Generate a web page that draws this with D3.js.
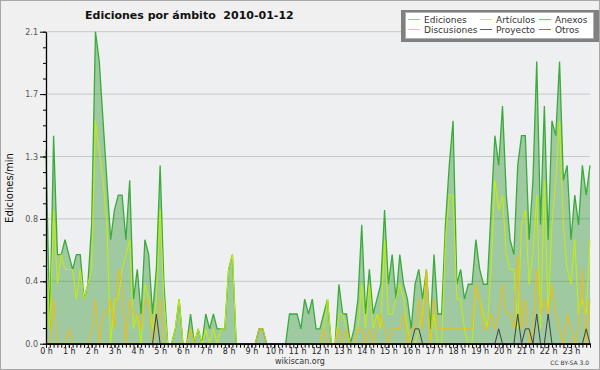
<!DOCTYPE html>
<html>
<head>
<meta charset="utf-8">
<script src="https://cdn.jsdelivr.net/npm/d3@7"></script>
<style>
  body { margin: 0; background: #f0f0f0; }
  svg { display: block; }
  text { font-family: "DejaVu Sans", sans-serif; }
</style>
</head>
<body>
<svg id="chart" width="600" height="370"></svg>
<script>
// one value every 10 minutes, 144 slots for the day
var hourLabels = ["0 h","1 h","2 h","3 h","4 h","5 h","6 h","7 h","8 h","9 h","10 h","11 h",
                  "12 h","13 h","14 h","15 h","16 h","17 h","18 h","19 h","20 h","21 h","22 h","23 h"];
var yTicks = [0, 0.42, 0.84, 1.26, 1.68, 2.1];

var ediciones = [
  1.3,0.1,1.4,0.6,0.6,0.7, 0.6,0.5,0.6,0.6,0.3,0.4, 0.8,2.1,1.9,1.5,1.1,0.7, 0.9,1.0,1.0,0.7,1.1,0.3,
  0.5,0.2,0.7,0.6,0.2,0.5, 1.2,0.4,0,0,0.1,0.3, 0,0,0.2,0,0.1,0, 0.2,0.1,0.2,0.1,0.1,0.1,
  0.5,0.6,0,0,0,0, 0,0,0.1,0.1,0,0, 0,0,0,0,0.2,0.2, 0.2,0.1,0.3,0.2,0.3,0.1,
  0.1,0.2,0.3,0,0,0.4, 0.2,0.2,0,0.1,0.3,0.8, 0.2,0.5,0.2,0.3,0.4,0.9, 0.4,0.6,0.3,0.6,0.4,0.3,
  0.1,0.4,0.5,0.3,0.5,0.1, 0.6,0.2,0.2,0.8,1.2,1.5, 0.4,0.5,0.3,0.4,0.4,0.7, 0.5,0.4,0.4,0.9,1.4,1.2,
  1.6,1.0,0.7,0.6,1.2,1.4, 1.4,0.7,1.1,1.9,0.8,1.6, 0.7,1.5,1.4,1.9,1.1,1.2, 0.7,1.0,0.8,1.2,1.0,1.2
];
var articulos = [
  0.7,0.1,0.9,0.4,0.6,0.5, 0.5,0.5,0.3,0.5,0.3,0.4, 0.5,1.5,1.3,1.1,0.8,0, 0.3,0.3,0.5,0.6,0.7,0.1,
  0.2,0,0.4,0.3,0.1,0.3, 0.9,0.3,0,0,0.1,0.3, 0,0,0.1,0,0.1,0, 0.1,0,0.1,0,0.1,0.1,
  0.5,0.6,0,0,0,0, 0,0,0,0,0,0, 0,0,0,0,0,0, 0,0,0,0,0,0,
  0,0.1,0.3,0,0,0.2, 0.2,0.1,0,0,0.1,0.4, 0.1,0.4,0.1,0.2,0.1,0.7, 0.2,0.2,0.3,0.4,0.3,0.1,
  0,0,0.1,0.2,0.5,0, 0.2,0,0,0.7,1.0,1.0, 0.3,0.3,0.1,0,0,0.4, 0.3,0.2,0.1,0.5,1.1,0.9,
  1.0,0.6,0.5,0.5,0.1,0.8, 0.9,0.4,0.6,1.0,0.1,1.1, 0.2,0.8,1.1,1.5,0.8,0.5, 0.4,0.7,0.2,0.3,0.2,0.7
];
var anexos = [
  0,0,0,0,0,0, 0,0,0,0,0,0, 0,0,0,0,0,0, 0,0,0,0,0,0,
  0,0,0,0,0,0, 0,0,0,0,0,0, 0,0,0,0,0,0, 0,0,0,0,0,0,
  0,0,0,0,0,0, 0,0,0,0,0,0, 0,0,0,0,0,0, 0,0,0,0,0,0,
  0,0,0,0,0,0, 0,0,0,0,0,0, 0,0,0,0,0,0, 0,0,0,0,0,0,
  0,0,0,0,0,0, 0,0,0,0,0,0, 0,0,0,0,0,0, 0,0,0,0,0,0,
  0,0,0,0,0,0, 0,0,0,0,0,0, 0,0,0,0,0,0, 0,0,0,0,0,0
];
var discusiones = [
  0,0,0.3,0,0,0, 0.1,0,0,0,0,0, 0.1,0.3,0,0.2,0.2,0.3, 0.1,0.5,0.4,0,0.3,0.2,
  0.2,0.1,0.3,0.3,0,0.1, 0.3,0,0,0,0,0, 0,0,0.1,0,0,0, 0,0,0,0,0,0,
  0,0,0,0,0,0, 0,0,0.1,0.1,0,0, 0,0,0,0,0,0, 0,0,0,0,0,0,
  0,0.1,0,0,0,0.1, 0,0.1,0,0,0.1,0.1, 0,0.1,0,0.1,0.2,0.1, 0,0.1,0.1,0.1,0.2,0,
  0.1,0.1,0.3,0.1,0.5,0, 0.3,0.1,0.1,0.1,0.1,0.1, 0.1,0.1,0.1,0.1,0.1,0.4, 0.3,0.1,0.1,0.2,0.1,0.2,
  0.4,0.2,0.2,0.1,0.6,0.1, 0.3,0,0.1,0.5,0.2,0.3, 0.2,0.4,0.2,0.1,0,0.2, 0.1,0,0.1,0.5,0,0.3
];
var proyecto = [
  0,0,0,0,0,0, 0,0,0,0,0,0, 0,0,0,0,0,0, 0,0,0,0,0,0,
  0,0,0,0,0,0.2, 0,0,0,0,0,0, 0,0,0,0,0,0, 0,0,0,0,0,0,
  0,0,0,0,0,0, 0,0,0,0,0,0, 0,0,0,0,0,0, 0,0,0,0,0,0,
  0,0,0,0,0,0, 0,0,0,0,0,0, 0,0,0,0,0,0, 0,0,0,0,0,0,
  0,0.1,0.1,0,0,0, 0,0,0,0,0,0, 0,0,0,0,0,0, 0,0,0,0,0,0.1,
  0,0,0,0,0.2,0, 0.1,0.1,0,0.2,0,0, 0.2,0,0,0,0,0, 0,0,0,0,0.1,0
];
var otros = [
  0,0,0,0,0,0, 0,0,0,0,0,0, 0,0,0,0,0,0, 0,0,0,0,0,0,
  0,0,0,0,0,0, 0,0,0,0,0,0, 0,0,0,0,0,0, 0,0,0,0,0,0,
  0,0,0,0,0,0, 0,0,0,0,0,0, 0,0,0,0,0,0, 0,0,0,0,0,0,
  0,0,0,0,0,0, 0,0,0,0,0,0, 0,0,0,0,0,0, 0,0,0,0,0,0,
  0,0,0,0,0,0, 0,0,0,0,0,0, 0,0,0,0,0,0, 0,0,0,0,0,0,
  0,0,0,0,0,0, 0,0,0,0,0,0, 0,0,0,0,0,0, 0,0,0,0,0,0
];

var series = [
  {name: "Ediciones",   values: ediciones,   color: "#3aab3a", legend: "#8fd08f", width: 1.3},
  {name: "Artículos",   values: articulos,   color: "#c4f000", legend: "#cdea5a", width: 1},
  {name: "Anexos",      values: anexos,      color: "#f07040", legend: "#f08a60", width: 1},
  {name: "Discusiones", values: discusiones, color: "#f2bc10", legend: "#f6d256", width: 1},
  {name: "Proyecto",    values: proyecto,    color: "#404040", legend: "#606060", width: 1},
  {name: "Otros",       values: otros,       color: "#9040e0", legend: "#9a5ae8", width: 1}
];

var plotLeft = 46, plotRight = 590, plotTop = 31.7, plotBottom = 343.7;

var svg = d3.select("#chart");

svg.append("rect")
    .attr("x", 0.5).attr("y", 0.5)
    .attr("width", 599).attr("height", 369)
    .attr("fill", "#f0f0f0")
    .attr("stroke", "#a8a8a8");

var x = d3.scaleLinear().domain([0, ediciones.length - 1]).range([plotLeft, plotRight]);
var y = d3.scaleLinear().domain([0, 2.1]).range([plotBottom, plotTop]);

svg.append("rect")
    .attr("x", plotLeft).attr("y", plotTop)
    .attr("width", plotRight - plotLeft).attr("height", plotBottom - plotTop)
    .attr("fill", "#eeeff1");

// grid
svg.selectAll("line.grid")
    .data(yTicks.slice(1))
    .enter().append("line")
    .attr("class", "grid")
    .attr("x1", plotLeft).attr("x2", plotRight)
    .attr("y1", function(d){ return y(d); })
    .attr("y2", function(d){ return y(d); })
    .attr("stroke", "#c8c8c8")
    .attr("stroke-width", 1);

var area = d3.area()
    .x(function(d, i){ return x(i); })
    .y0(y(0))
    .y1(function(d){ return y(d); });

var line = d3.line()
    .x(function(d, i){ return x(i); })
    .y(function(d){ return y(d); });

svg.append("path")
    .attr("d", area(ediciones))
    .attr("fill", "#008000")
    .attr("fill-opacity", 0.33);

series.forEach(function(s){
  svg.append("path")
      .attr("d", line(s.values))
      .attr("fill", "none")
      .attr("stroke", s.color)
      .attr("stroke-width", s.width)
      .attr("stroke-linejoin", "miter");
});

// axes
var yMinor = d3.range(0, 21).map(function(i){ return i * 0.105; });
svg.append("g")
    .attr("transform", "translate(" + plotLeft + ",0)")
    .call(d3.axisLeft(y).tickValues(yMinor).tickSize(3).tickFormat(""))
    .call(function(g){ g.select(".domain").remove(); });

var yAxis = svg.append("g")
    .attr("transform", "translate(" + plotLeft + ",0)")
    .call(d3.axisLeft(y).tickValues(yTicks).tickSize(6).tickSizeOuter(0)
          .tickFormat(function(d){ return d.toFixed(1); }));
yAxis.selectAll("text")
    .attr("font-family", "DejaVu Sans")
    .attr("font-size", 8)
    .attr("fill", "#555")
    .attr("x", -8);

svg.append("g")
    .attr("transform", "translate(0," + plotBottom + ")")
    .call(d3.axisBottom(x).tickValues(d3.range(0, ediciones.length)).tickSize(4).tickSizeOuter(0).tickFormat(""));

var xAxis = svg.append("g")
    .attr("transform", "translate(0," + plotBottom + ")")
    .call(d3.axisBottom(x).tickValues(hourLabels.map(function(d, i){ return i * 6; }))
          .tickSize(4).tickSizeOuter(0)
          .tickFormat(function(d){ return hourLabels[d / 6]; }));
xAxis.selectAll("text")
    .attr("font-family", "DejaVu Sans")
    .attr("font-size", 8)
    .attr("fill", "#222")
    .attr("y", 5);

svg.selectAll(".domain").attr("stroke", "#000").attr("stroke-width", 1.3);
svg.selectAll(".tick line").attr("stroke", "#000");

// texts
svg.append("text")
    .attr("x", 85).attr("y", 18.5)
    .attr("font-family", "DejaVu Sans")
    .attr("font-weight", "bold")
    .attr("font-size", 11)
    .attr("fill", "#111")
    .attr("xml:space", "preserve")
    .text("Ediciones por ámbito  2010-01-12");

svg.append("text")
    .attr("transform", "translate(13,188) rotate(-90)")
    .attr("text-anchor", "middle")
    .attr("font-family", "DejaVu Sans Mono")
    .attr("font-size", 10)
    .attr("fill", "#111")
    .text("Ediciones/min");

svg.append("text")
    .attr("x", 300).attr("y", 363.5)
    .attr("text-anchor", "middle")
    .attr("font-size", 8)
    .attr("fill", "#333")
    .text("wikiscan.org");

svg.append("text")
    .attr("x", 589).attr("y", 365)
    .attr("text-anchor", "end")
    .attr("font-size", 6)
    .attr("fill", "#333")
    .text("CC BY-SA 3.0");

// legend
var lg = svg.append("g");
lg.append("rect")
    .attr("x", 401).attr("y", 10).attr("width", 198).attr("height", 32)
    .attr("fill", "#808080");
lg.append("rect")
    .attr("x", 405.5).attr("y", 12.5).attr("width", 188).attr("height", 26)
    .attr("fill", "#fff")
    .attr("stroke", "#b0b0b0");

var legendCols = [408, 480, 539];
var legendRows = [19.5, 29.5];
var legendOrder = ["Ediciones", "Artículos", "Anexos", "Discusiones", "Proyecto", "Otros"];

var items = lg.selectAll("g.item")
    .data(legendOrder.map(function(n){ return series.find(function(s){ return s.name == n; }); }))
    .enter().append("g")
    .attr("class", "item")
    .attr("transform", function(d, i){
      return "translate(" + legendCols[i % 3] + "," + legendRows[Math.floor(i / 3)] + ")";
    });

items.append("line")
    .attr("x1", 0).attr("x2", 12)
    .attr("stroke", function(d){ return d.legend; })
    .attr("stroke-width", 1);

items.append("text")
    .attr("x", 16).attr("y", 3.2)
    .attr("font-size", 9)
    .attr("fill", "#333")
    .text(function(d){ return d.name; });
</script>
</body>
</html>
